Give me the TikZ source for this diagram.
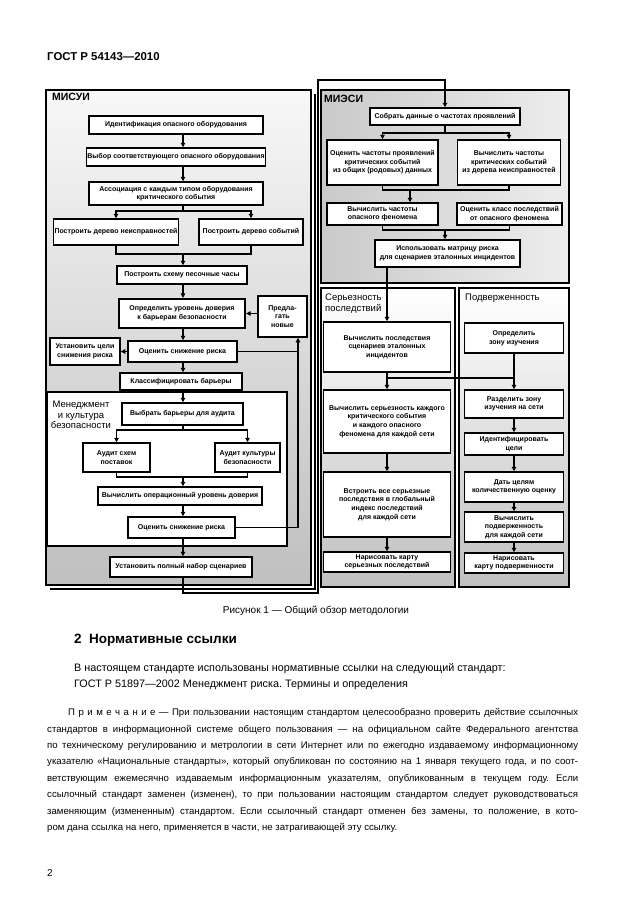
\documentclass[tikz,border=0pt]{standalone}
\usepackage{fontspec}
\setmainfont{Liberation Sans}
\usetikzlibrary{arrows.meta,calc}
\frenchspacing
\tikzset{
  bx/.style={draw, line width=1.5pt, fill=white, align=center, inner sep=1pt,
    font=\bfseries\fontsize{7}{8.6}\selectfont},
  ln/.style={line width=1.4pt},
  arr/.style={line width=1.4pt, -{Triangle[length=4.5pt,width=4.5pt]}},
  fr/.style={draw, line width=1.4pt},
  frlabel/.style={anchor=north west, inner sep=0pt, align=left, font=\fontsize{9.5}{10.5}\selectfont},
  bigl/.style={anchor=north west, inner sep=0pt, font=\bfseries\fontsize{10.5}{12}\selectfont},
  txt/.style={anchor=base west, inner sep=0pt, font=\fontsize{10.8}{13}\selectfont}
}
\begin{document}
\begin{tikzpicture}[x=1pt,y=-1pt]
\useasboundingbox (0,0) rectangle (630,913);
\fill[white] (0,0) rectangle (630,913);

% ---------- frames ----------
\shade[top color=gray!6, bottom color=gray!50] (46,90) rectangle (311,585);
\draw[fr] (46,90) rectangle (311,585);
\draw[line width=1.2pt] (50,589) -| (315,94);
\fill[white] (47,392) rectangle (287,546);
\draw[fr] (47,392) rectangle (287,546);

\shade[left color=gray!42, right color=gray!14] (321,90) rectangle (569,283);
\draw[fr] (321,90) rectangle (569,283);

\shade[top color=white, middle color=white, bottom color=gray!50] (321,288) rectangle (455,587);
\draw[fr] (321,288) rectangle (455,587);
\shade[top color=white, middle color=white, bottom color=gray!50] (459,288) rectangle (569,587);
\draw[fr] (459,288) rectangle (569,587);

% ---------- frame labels ----------
\node[bigl] (lmisui) at (52,93) {МИСУИ};
\node[bigl] (lmiesi) at (324,95) {МИЭСИ};
\node[frlabel, anchor=center, align=center] (lmen) at (81,415) {Менеджмент\\и культура\\безопасности};
\node[frlabel] (lser) at (325,294) {Серьезность\\последствий};
\node[frlabel] (lpod) at (465,294) {Подверженность};

% ---------- left panel nodes ----------
\coordinate (ax) at (183,0);
\coordinate (fb) at (298,0);
\node[bx, minimum width=174pt, minimum height=18pt] (n1) at (176,125) {Идентификация опасного оборудования};
\node[bx, minimum width=174pt, minimum height=18pt] (n2) at (176,157) {Выбор соответствующего опасного оборудования};
\node[bx, minimum width=174pt, minimum height=23pt] (n3) at (176,193.5) {Ассоциация с каждым типом оборудования\\критического события};
\node[bx, minimum width=125pt, minimum height=26pt] (n4a) at (116,232) {Построить дерево неисправностей};
\node[bx, minimum width=104pt, minimum height=26pt] (n4b) at (251,232) {Построить дерево событий};
\node[bx, minimum width=130pt, minimum height=18pt] (n5) at (182,275) {Построить схему песочные часы};
\node[bx, line width=2.2pt, minimum width=126pt, minimum height=29pt] (n6) at (182,313.5) {Определить уровень доверия\\к барьерам безопасности};
\node[bx, minimum width=49pt, minimum height=41pt] (n7) at (282.5,316.5) {Предла-\\гать\\новые};
\node[bx, minimum width=70pt, minimum height=27pt] (n8) at (85,351.5) {Установить цели\\снижения риска};
\node[bx, minimum width=109pt, minimum height=21pt] (n9) at (182.5,351.5) {Оценить снижение риска};
\node[bx, minimum width=122pt, minimum height=17pt] (n10) at (181,381.5) {Классифицировать барьеры};
\node[bx, minimum width=121pt, minimum height=22pt] (n11) at (182.5,414) {Выбрать барьеры для аудита};
\node[bx, minimum width=67pt, minimum height=29pt] (n12a) at (116.5,457.5) {Аудит схем\\поставок};
\node[bx, minimum width=65pt, minimum height=29pt] (n12b) at (247.5,457.5) {Аудит культуры\\безопасности};
\node[bx, minimum width=164pt, minimum height=18pt] (n13) at (180,496) {Вычислить операционный уровень доверия};
\node[bx, minimum width=107pt, minimum height=21pt] (n14) at (181.5,527.5) {Оценить снижение риска};
\node[bx, minimum width=142pt, minimum height=20pt] (n15) at (181,567) {Установить полный набор сценариев};

% ---------- МИЭСИ nodes ----------
\node[bx, minimum width=150pt, minimum height=17pt] (m1) at (445,116.5) {Собрать данные о частотах проявлений};
\node[bx, minimum width=111pt, minimum height=45pt] (m2a) at (382.5,162.5) {Оценить частоты проявлений\\критических событий\\из общих (родовых) данных};
\node[bx, minimum width=103pt, minimum height=45pt] (m2b) at (509,162.5) {Вычислить частоты\\критических событий\\из дерева неисправностей};
\node[bx, minimum width=111pt, minimum height=22pt] (m3a) at (382.5,214) {Вычислить частоты\\опасного феномена};
\node[bx, minimum width=105pt, minimum height=22pt] (m3b) at (509.5,214) {Оценить класс последствий\\от опасного феномена};
\node[bx, minimum width=145pt, minimum height=27pt] (m4) at (447.5,253.5) {Использовать матрицу риска\\для сценариев эталонных инцидентов};

% ---------- lower right nodes ----------
\node[bx, minimum width=127pt, minimum height=50pt] (b1) at (387,347) {Вычислить последствия\\сценариев эталонных\\инцидентов};
\node[bx, minimum width=127pt, minimum height=63pt] (b2) at (387,421.5) {Вычислить серьезность каждого\\критического события\\и каждого опасного\\феномена для каждой сети};
\node[bx, minimum width=127pt, minimum height=65pt] (b3) at (387,504.5) {Встроить все серьезные\\последствия в глобальный\\индекс последствий\\для каждой сети};
\node[bx, minimum width=127pt, minimum height=20pt] (b4) at (387,562) {Нарисовать карту\\серьезных последствий};

\node[bx, minimum width=99pt, minimum height=30pt] (c1) at (514,338) {Определить\\зону изучения};
\node[bx, minimum width=99pt, minimum height=28pt] (c2) at (514,404) {Разделить зону\\изучения на сети};
\node[bx, minimum width=99pt, minimum height=22pt] (c3) at (514,444) {Идентифицировать\\цели};
\node[bx, minimum width=99pt, minimum height=30pt] (c4) at (514,487) {Дать целям\\количественную оценку};
\node[bx, minimum width=99pt, minimum height=30pt] (c5) at (514,527) {Вычислить\\подверженность\\для каждой сети};
\node[bx, minimum width=99pt, minimum height=20pt] (c6) at (514,563) {Нарисовать\\карту подверженности};

% ---------- connectors left ----------
\coordinate (s1) at (183,211);
\coordinate (j1) at (183,254);
\coordinate (s2) at (183,430);
\coordinate (j2) at (183,477);
\draw[arr] (ax |- n1.south) -- (ax |- n2.north);
\draw[arr] (ax |- n2.south) -- (ax |- n3.north);
\draw[ln] (ax |- n3.south) -- (s1);
\draw[arr] (s1) -| (n4a.north);
\draw[arr] (s1) -| (n4b.north);
\draw[ln] (n4a.south) |- (j1);
\draw[ln] (n4b.south) |- (j1);
\draw[arr] (j1) -- (ax |- n5.north);
\draw[arr] (ax |- n5.south) -- (ax |- n6.north);
\draw[arr] (n7.west |- n6.east) -- (n6.east);
\draw[arr] (ax |- n6.south) -- (ax |- n9.north);
\draw[arr] (n9.west) -- (n9.west -| n8.east);
\draw[ln] (n9.east) -- (n9.east -| fb);
\draw[arr] (n14.east) -- (n14.east -| fb) -- (fb |- n7.south);
\draw[arr] (ax |- n9.south) -- (ax |- n10.north);
\draw[arr] (ax |- n10.south) -- (ax |- n11.north);
\draw[ln] (ax |- n11.south) -- (s2);
\draw[arr] (s2) -| (n12a.north);
\draw[arr] (s2) -| (n12b.north);
\draw[ln] (n12a.south) |- (j2);
\draw[ln] (n12b.south) |- (j2);
\draw[arr] (j2) -- (ax |- n13.north);
\draw[arr] (ax |- n13.south) -- (ax |- n14.north);
\draw[arr] (ax |- n14.south) -- (ax |- n15.north);
% loop to МИЭСИ
\coordinate (L1) at (318,593);
\coordinate (L2) at (318,80);
\draw[arr] (ax |- n15.south) |- (L1) -- (L2) -| (m1.north);

% ---------- connectors МИЭСИ ----------
\coordinate (s3) at (445,133);
\coordinate (j3) at (410,190);
\coordinate (j4) at (445,230);
\draw[ln] (m1.south) -- (s3);
\draw[arr] (s3) -| (m2a.north);
\draw[arr] (s3) -| (m2b.north);
\draw[ln] (m2a.south) |- (j3 -| m2b) -- (m2b.south);
\draw[arr] (j3) -- (j3 |- m3a.north);
\draw[ln] (m3a.south) |- (j4 -| m3b) -- (m3b.south);
\draw[arr] (j4) -- (j4 |- m4.north);
\draw[arr] (b1.north |- m4.south) -- (b1.north);

% ---------- connectors lower ----------
\coordinate (j5) at (387,378);
\draw[arr] (b1.south) -- (b2.north);
\draw[ln] (j5) -- (j5 -| c1);
\draw[arr] (b2.south) -- (b3.north);
\draw[arr] (b3.south) -- (b4.north);
\draw[arr] (c1.south) -- (c2.north);
\draw[arr] (c2.south) -- (c3.north);
\draw[arr] (c3.south) -- (c4.north);
\draw[arr] (c4.south) -- (c5.north);
\draw[arr] (c5.south) -- (c6.north);

% ---------- page text ----------
\node[anchor=base west, inner sep=0pt, font=\bfseries\fontsize{11.4}{13}\selectfont] (hdr) at (47,60) {ГОСТ Р 54143—2010};
\node[inner sep=0pt, font=\fontsize{10}{12}\selectfont] (cap) at (316,611) {Рисунок 1 — Общий обзор методологии};
\node[anchor=base west, inner sep=0pt, font=\bfseries\fontsize{13.5}{16}\selectfont] (sec) at (74,643) {2\hspace{0.55em}Нормативные ссылки};
\node[txt] (p1) at (74,671) {В настоящем стандарте использованы нормативные ссылки на следующий стандарт:};
\node[txt] (p2) at (74,687) {ГОСТ Р 51897—2002 Менеджмент риска. Термины и определения};
\node[anchor=north west, inner sep=0pt, text width=531pt, align=justify,
      font=\fontsize{9.6}{16.4}\selectfont] (note) at (47,704)
{\parindent=0pt\strut\hspace*{21pt}П р и м е ч а н и е — При пользовании настоящим стандартом целесообразно проверить действие ссылочных\linebreak
стандартов в информационной системе общего пользования — на официальном сайте Федерального агентства\linebreak
по техническому регулированию и метрологии в сети Интернет или по ежегодно издаваемому информационному\linebreak
указателю «Национальные стандарты», который опубликован по состоянию на 1 января текущего года, и по соот-\linebreak
ветствующим ежемесячно издаваемым информационным указателям, опубликованным в текущем году. Если\linebreak
ссылочный стандарт заменен (изменен), то при пользовании настоящим стандартом следует руководствоваться\linebreak
заменяющим (измененным) стандартом. Если ссылочный стандарт отменен без замены, то положение, в кото-\linebreak
ром дана ссылка на него, применяется в части, не затрагивающей эту ссылку.};
\node[anchor=base west, inner sep=0pt, font=\fontsize{10}{12}\selectfont] (pg) at (47,876) {2};
\end{tikzpicture}
\end{document}
